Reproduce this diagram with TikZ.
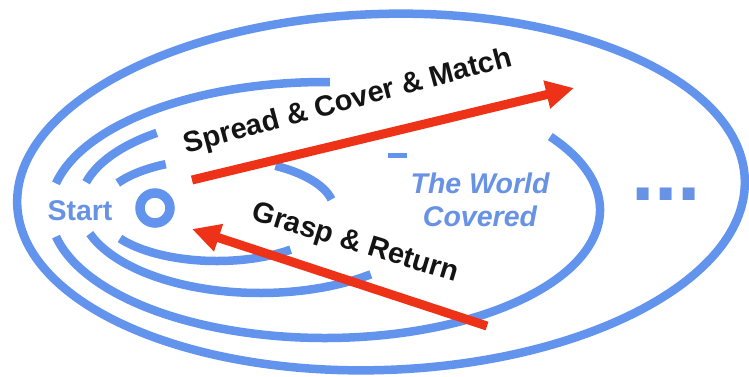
\documentclass[tikz,border=0pt]{standalone}
\usepackage{fontspec}
\setmainfont{Liberation Sans}
\usetikzlibrary{arrows.meta}
\definecolor{ringblue}{RGB}{98,148,238}
\definecolor{txtblue}{RGB}{104,146,228}
\definecolor{arrred}{RGB}{238,50,24}
\definecolor{txtblack}{RGB}{20,20,20}
\begin{document}
\begin{tikzpicture}[x=1pt,y=-1pt,
  ring/.style={draw=ringblue, line width=8.5pt},
  redarrow/.style={draw=arrred, line width=9pt, -{Triangle[length=28pt,width=27pt]}},
  blacklbl/.style={text=txtblack, inner sep=0pt, font=\bfseries\fontsize{29}{34}\selectfont},
  bluelbl/.style={text=txtblue, inner sep=0pt, font=\bfseries\fontsize{28.5}{33}\selectfont}]
\useasboundingbox (0,0) rectangle (749,376);
\fill[white] (0,0) rectangle (749,376);
% outer ellipse
\draw[ring, rotate around={2:(381,192)}] (381,192) ellipse [x radius=364, y radius=178];
% ring 3 (the world covered)
\draw[ring] (325,210) ++(192:275 and 128) arc[start angle=192, end angle=271, x radius=275, y radius=128];
\draw[ring] (325,210) ++(-35:275 and 128) arc[start angle=-35, end angle=168, x radius=275, y radius=128];
% ring 2
\draw[ring] (260,205) ++(195:180 and 88) arc[start angle=195, end angle=235, x radius=180, y radius=88];
\draw[ring] (260,205) ++(52:180 and 88) arc[start angle=52, end angle=161, x radius=180, y radius=88];
\draw[draw=ringblue, line width=5pt] (388,155) -- (407,155);
% ring 1
\draw[ring] (217,210) ++(212:117 and 51) arc[start angle=212, end angle=244, x radius=117, y radius=51];
\draw[ring] (217,210) ++(300:117 and 51) arc[start angle=300, end angle=348, x radius=117, y radius=51];
\draw[ring] (217,210) ++(51:117 and 51) arc[start angle=51, end angle=146, x radius=117, y radius=51];
% start circle
\draw[draw=ringblue, line width=9.5pt] (155,208) circle[radius=15];
% arrows
\coordinate (s1) at (192,180);
\coordinate (s2) at (574,88);
\coordinate (r1) at (487,326);
\coordinate (r2) at (192,229);
\draw[redarrow] (s1) -- (s2);
\draw[redarrow] (r1) -- (r2);
% labels
\node[blacklbl, rotate=15] (spread) at (348,102) {Spread \& Cover \& Match};
\node[blacklbl, rotate=-17] (grasp) at (355,244) {Grasp \& Return};
\node[bluelbl] (start) at (80,211) {Start};
\node[bluelbl, align=center, font=\bfseries\itshape\fontsize{28.5}{33}\selectfont] (world) at (480,200) {The World\\Covered};
\node[text=txtblue, inner sep=0pt, anchor=base west, font=\bfseries\fontsize{84}{90}\selectfont] (dots) at (631,200) {...};
\end{tikzpicture}
\end{document}
